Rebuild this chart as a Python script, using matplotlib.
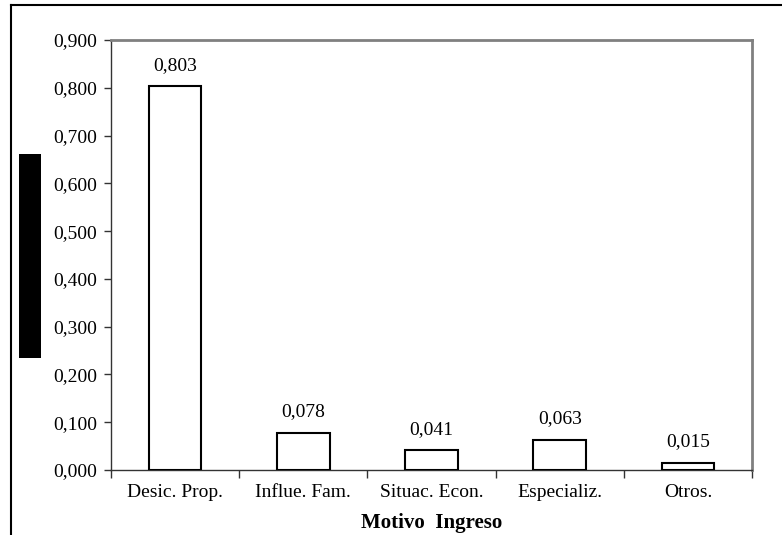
import matplotlib
matplotlib.use("Agg")
import matplotlib.pyplot as plt
from matplotlib.lines import Line2D
from matplotlib.patches import Rectangle

categories = ["Desic. Prop.", "Influe. Fam.", "Situac. Econ.", "Especializ.", "Otros."]
values = [0.803, 0.078, 0.041, 0.063, 0.015]
yticks = [0.0, 0.1, 0.2, 0.3, 0.4, 0.5, 0.6, 0.7, 0.8, 0.9]

plt.rcParams['font.family'] = ['Liberation Serif', 'DejaVu Serif']

W, H = 782, 535
fig = plt.figure(figsize=(W / 100, H / 100), dpi=100)


def fx(px):
    return px / W


def fy(py):
    return 1 - py / H


# outer chart frame (top and left edges visible)
fig.add_artist(Line2D([fx(11), fx(800)], [fy(4.5), fy(4.5)], color='black', lw=1.5))
fig.add_artist(Line2D([fx(11), fx(11)], [fy(4.5), fy(560)], color='black', lw=1.5))

# redacted axis title block
fig.add_artist(Rectangle((fx(19), fy(358)), fx(41) - fx(19), fy(154) - fy(358),
                         facecolor='black', edgecolor='none'))

ax = fig.add_axes([fx(111), fy(470), fx(752) - fx(111), fy(40) - fy(470)])
x = list(range(len(categories)))
ax.bar(x, values, width=0.41, facecolor='white', edgecolor='black', linewidth=1.5, zorder=3)

for xi, v in zip(x, values):
    ax.annotate(f"{v:.3f}".replace('.', ','), (xi, v), xytext=(0, 9), textcoords='offset points',
                ha='center', va='bottom', fontsize=14)

ax.set_xlim(-0.5, len(categories) - 0.5)
ax.set_ylim(0, 0.9)
ax.set_yticks(yticks)
ax.set_yticklabels([f"{t:.3f}".replace('.', ',') for t in yticks], fontsize=14)
ax.tick_params(axis='y', direction='out', length=5, width=1, pad=5, color='#333333')

# category boundary ticks on x
ax.set_xticks([i - 0.5 for i in range(len(categories) + 1)])
ax.set_xticklabels([])
ax.tick_params(axis='x', direction='out', length=6, width=1, color='#333333')
ax.set_xticks(x, minor=True)
ax.set_xticklabels(categories, minor=True, fontsize=14)
ax.tick_params(axis='x', which='minor', length=0, pad=10)

ax.set_xlabel("Motivo  Ingreso", fontsize=15, fontweight='bold', labelpad=9)

for side in ['top', 'right']:
    ax.spines[side].set_color('#808080')
    ax.spines[side].set_linewidth(2)
for side in ['left', 'bottom']:
    ax.spines[side].set_color('#333333')
    ax.spines[side].set_linewidth(1)

fig.savefig("out.png", dpi=100)
